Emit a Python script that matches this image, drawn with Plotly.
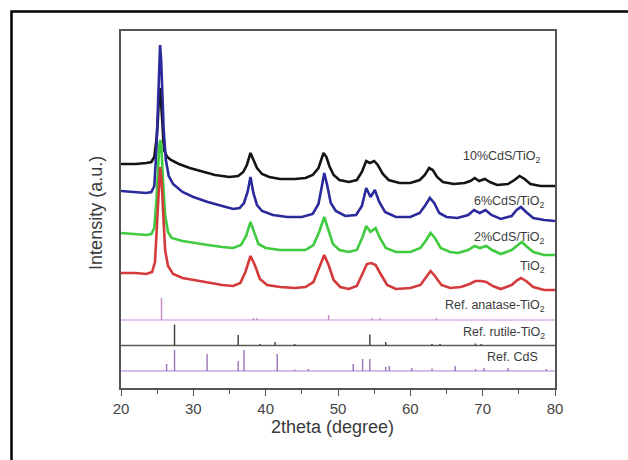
import plotly.graph_objects as go

# ---------------- XRD patterns (2theta in degree, stacked intensity in a.u.) ----------------
tt_10 = [20.0, 22.0, 23.5, 24.2, 24.6, 24.9, 25.1, 25.25, 25.4, 25.55, 25.7, 25.85, 26.0, 26.4, 26.9,
         28.0, 29.5, 31.0, 33.0, 35.0, 36.2, 36.9, 37.4, 37.9, 38.3, 38.8, 39.5, 40.5, 42.0, 44.0,
         45.5, 46.5, 47.3, 47.7, 48.0, 48.4, 48.8, 49.4, 50.2, 51.5, 52.6, 53.3, 53.9, 54.4, 55.0,
         55.5, 56.2, 57.0, 58.5, 60.0, 61.3, 62.0, 62.6, 63.1, 63.7, 64.5, 66.0, 67.5, 68.3, 68.9,
         69.5, 70.3, 71.0, 72.0, 73.5, 74.4, 75.1, 75.8, 76.6, 78.0, 80.0]
int_10 = [224, 224, 225, 226, 231, 248, 268, 293, 300, 288, 268, 248, 237, 231, 228,
          224, 220, 217, 213, 211, 212, 216, 223, 235, 228, 220, 214, 211, 209, 209,
          210, 213, 220, 228, 235, 231, 222, 213, 208, 206, 208, 216, 227, 225, 227,
          223, 214, 208, 205, 205, 208, 213, 220, 218, 211, 206, 204, 205, 207, 210,
          207, 209, 206, 203, 204, 208, 212, 209, 204, 202, 202]

tt_6 = [20.0, 22.0, 23.5, 24.2, 24.6, 24.9, 25.1, 25.25, 25.4, 25.55, 25.7, 25.9, 26.2, 26.6, 27.2,
        28.5, 30.0, 32.0, 34.0, 35.5, 36.4, 37.0, 37.5, 37.9, 38.3, 38.8, 39.5, 41.0, 43.0, 45.0,
        46.5, 47.3, 47.8, 48.1, 48.5, 49.0, 49.7, 51.0, 52.5, 53.3, 53.9, 54.5, 55.1, 55.7, 56.5,
        58.0, 60.0, 61.3, 62.1, 62.7, 63.3, 64.0, 65.0, 66.5, 68.0, 68.8, 69.6, 70.4, 71.2, 72.5,
        74.0, 74.7, 75.3, 76.0, 77.0, 78.5, 80.0]
int_6 = [197, 196, 195, 196, 202, 238, 288, 328, 343, 328, 293, 258, 228, 212, 204,
         196, 191, 186, 182, 179, 180, 185, 196, 211, 195, 183, 177, 173, 171, 171,
         174, 184, 203, 215, 203, 185, 177, 172, 173, 182, 200, 191, 198, 186, 176,
         171, 171, 175, 183, 190, 185, 175, 171, 170, 173, 178, 175, 178, 173, 169,
         172, 178, 181, 176, 170, 168, 167]

tt_2 = [20.0, 22.0, 23.5, 24.2, 24.6, 24.9, 25.1, 25.3, 25.45, 25.6, 25.8, 26.1, 26.5, 27.0, 28.5,
        30.0, 32.0, 34.0, 35.5, 36.6, 37.3, 37.9, 38.4, 39.0, 40.0, 42.0, 44.0, 45.5, 46.6, 47.4,
        48.1, 48.6, 49.3, 50.2, 51.5, 52.6, 53.4, 53.9, 54.5, 55.2, 55.8, 56.6, 58.0, 60.0, 61.4,
        62.2, 62.8, 63.4, 64.2, 65.5, 66.6, 68.0, 68.9, 69.6, 70.5, 71.3, 72.5, 74.0, 74.8, 75.4,
        76.0, 77.0, 78.5, 80.0]
int_2 = [155, 154, 153, 154, 160, 188, 218, 243, 248, 238, 208, 173, 156, 150, 147,
         145, 143, 141, 140, 143, 152, 166, 155, 144, 140, 138, 138, 138, 143, 156,
         171, 160, 144, 138, 136, 138, 151, 162, 156, 160, 150, 140, 136, 136, 140,
         148, 155, 150, 140, 136, 135, 138, 142, 140, 142, 138, 134, 138, 143, 146,
         142, 136, 133, 133]

tt_tio2 = [20.0, 22.0, 23.5, 24.3, 24.7, 25.0, 25.2, 25.4, 25.6, 25.8, 26.1, 26.5, 27.2, 28.5, 30.0,
           32.0, 34.0, 35.5, 36.5, 37.2, 37.9, 38.5, 39.2, 40.2, 42.0, 44.0, 45.5, 46.6, 47.4, 48.1,
           48.7, 49.4, 50.3, 51.5, 52.6, 53.4, 54.0, 54.6, 55.2, 55.9, 56.8, 58.0, 60.0, 61.4, 62.2,
           62.8, 63.4, 64.3, 65.5, 67.0, 68.2, 69.0, 69.8, 70.5, 71.4, 72.5, 74.0, 74.8, 75.3, 76.0,
           77.0, 78.5, 80.0]
int_tio2 = [115, 115, 114, 116, 126, 163, 198, 221, 208, 173, 138, 122, 114, 110, 108,
            105, 103, 102, 105, 116, 132, 123, 109, 103, 101, 100, 101, 106, 120, 133,
            123, 108, 101, 99, 102, 114, 124, 125, 123, 114, 103, 99, 100, 103, 111,
            117, 112, 103, 100, 101, 104, 107, 107, 106, 102, 99, 103, 108, 110, 107,
            101, 98, 98]

# ---------------- Reference patterns (stick positions and relative heights) ----------------
anatase_pos = [25.6, 38.3, 38.8, 48.7, 54.7, 55.8, 63.6]
anatase_h = [22, 2, 2, 5, 2, 2, 2]
rutile_pos = [27.4, 36.2, 39.2, 41.3, 44.0, 54.4, 56.6, 63.0, 64.1, 69.0, 69.8]
rutile_h = [21, 10.5, 1.5, 3.5, 1.5, 11, 3.5, 1.5, 1.5, 2, 1.5]
cds_pos = [26.3, 27.4, 31.9, 36.2, 37.0, 41.6, 44.0, 45.9, 52.1, 53.4, 54.4, 56.6, 57.1,
           60.2, 63.0, 66.2, 69.0, 70.2, 73.5, 78.8]
cds_h = [7, 21, 17, 10, 21, 17, 1.5, 2, 7, 12, 12, 4, 5, 3, 2.5, 5, 2, 3, 3, 2]

# vertical offsets of the reference stick panels
anatase_base = 68
rutile_base = 42.5
cds_base = 17

fig = go.Figure()

curves = [
    (tt_10, int_10, "#141414", "10%CdS/TiO2"),
    (tt_6, int_6, "#2a2a9c", "6%CdS/TiO2"),
    (tt_2, int_2, "#3fca3f", "2%CdS/TiO2"),
    (tt_tio2, int_tio2, "#d43a3a", "TiO2"),
]
for xs, ys, col, name in curves:
    fig.add_trace(go.Scatter(x=xs, y=ys, mode="lines", name=name,
                             line=dict(color=col, width=2.6), showlegend=False))


def stick_trace(pos, heights, base, color, base_color, name):
    xs, ys = [], []
    for p, h in zip(pos, heights):
        xs += [p, p, None]
        ys += [base, base + h, None]
    baseline = go.Scatter(x=[20, 80], y=[base, base], mode="lines",
                          line=dict(color=base_color, width=1.6), showlegend=False,
                          name=name + " baseline")
    sticks = go.Scatter(x=xs, y=ys, mode="lines", line=dict(color=color, width=1.4),
                        showlegend=False, name=name)
    return [baseline, sticks]


for tr in stick_trace(anatase_pos, anatase_h, anatase_base, "#c787c4", "#d9b2ea", "anatase"):
    fig.add_trace(tr)
for tr in stick_trace(rutile_pos, rutile_h, rutile_base, "#3a3a3a", "#5a5a5a", "rutile"):
    fig.add_trace(tr)
for tr in stick_trace(cds_pos, cds_h, cds_base, "#9a72b6", "#c9a9e6", "CdS"):
    fig.add_trace(tr)

label_font = dict(family="Liberation Sans, Arial, sans-serif", size=12.5, color="#3c3c3c")
labels = [
    (78.2, 231, "10%CdS/TiO<sub>2</sub>"),
    (78.9, 186, "6%CdS/TiO<sub>2</sub>"),
    (78.9, 150, "2%CdS/TiO<sub>2</sub>"),
    (78.9, 121, "TiO<sub>2</sub>"),
    (78.9, 82.5, "Ref. anatase-TiO<sub>2</sub>"),
    (78.9, 55, "Ref. rutile-TiO<sub>2</sub>"),
    (77.9, 31, "Ref. CdS"),
]
annotations = [dict(x=x, y=y, xref="x", yref="y", text=t, showarrow=False,
                    xanchor="right", yanchor="middle", font=label_font)
               for x, y, t in labels]

# axis titles
annotations.append(dict(x=0.488, y=-0.108, xref="paper", yref="paper",
                        text="2theta (degree)", showarrow=False,
                        xanchor="center", yanchor="middle",
                        font=dict(family="Liberation Sans, Arial, sans-serif", size=18, color="#3a3a3a")))
annotations.append(dict(x=-0.058, y=0.49, xref="paper", yref="paper",
                        text="Intensity (a.u.)", showarrow=False, textangle=-90,
                        xanchor="center", yanchor="middle",
                        font=dict(family="Liberation Sans, Arial, sans-serif", size=18, color="#3a3a3a")))

fig.update_layout(
    width=628, height=460,
    margin=dict(l=121, r=73, t=31, b=72),
    paper_bgcolor="white", plot_bgcolor="white",
    annotations=annotations,
    shapes=[dict(type="rect", xref="paper", yref="paper",
                 x0=-0.2523, x1=1.5, y0=-0.5, y1=1.0546,
                 line=dict(color="black", width=2.5), fillcolor="rgba(0,0,0,0)", layer="above")],
)

fig.update_xaxes(
    range=[20, 80], showgrid=False, zeroline=False,
    showline=True, linecolor="#555555", linewidth=1.5, mirror=True,
    ticks="outside", ticklen=6, tickwidth=1.3, tickcolor="#555555",
    tickvals=[20, 30, 40, 50, 60, 70, 80],
    minor=dict(tickvals=[25, 35, 45, 55, 65, 75], ticks="outside", ticklen=4,
               tickwidth=1.2, tickcolor="#555555"),
    tickfont=dict(family="Liberation Sans, Arial, sans-serif", size=15, color="#444444"),
)
fig.update_yaxes(
    range=[0, 357], showgrid=False, zeroline=False, showticklabels=False,
    showline=True, linecolor="#555555", linewidth=1.5, mirror=True, ticks="",
)

fig.write_html("out.html")
